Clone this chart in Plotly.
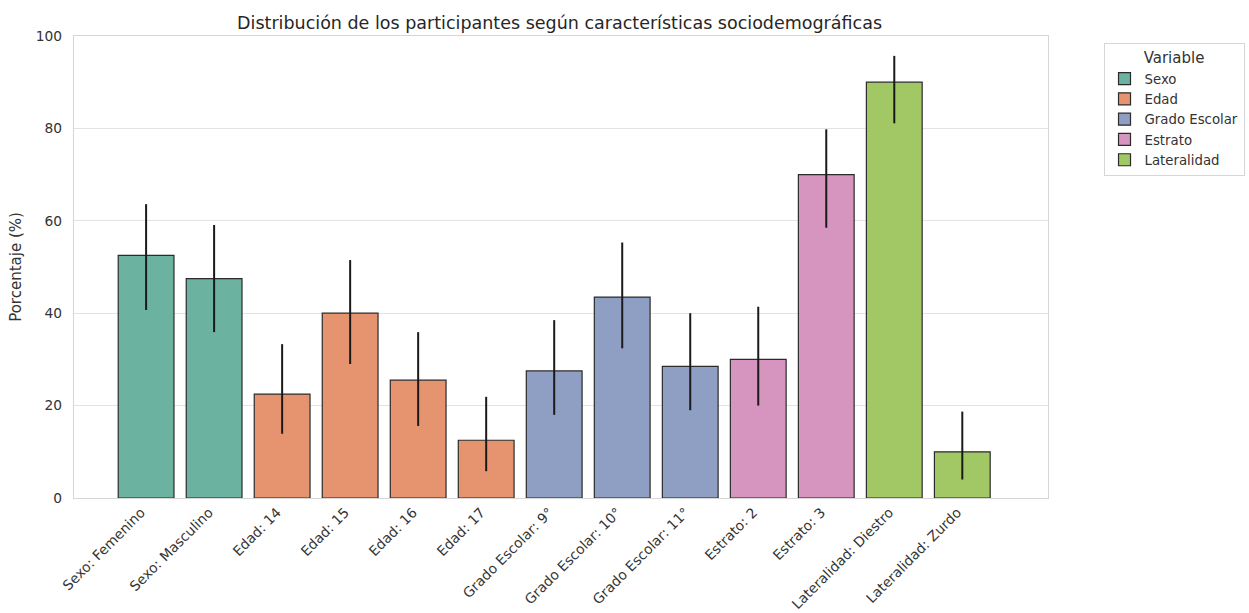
import plotly.graph_objects as go

# Categorías y porcentajes por variable sociodemográfica
groups = ["Sexo", "Edad", "Grado Escolar", "Estrato", "Lateralidad"]
categories = [
    ["Sexo: Femenino", "Sexo: Masculino"],
    ["Edad: 14", "Edad: 15", "Edad: 16", "Edad: 17"],
    ["Grado Escolar: 9°", "Grado Escolar: 10°", "Grado Escolar: 11°"],
    ["Estrato: 2", "Estrato: 3"],
    ["Lateralidad: Diestro", "Lateralidad: Zurdo"],
]
percentages = [
    [52.5, 47.5],
    [22.5, 40.0, 25.5, 12.5],
    [27.5, 43.5, 28.5],
    [30.0, 70.0],
    [90.0, 10.0],
]
# Límites del intervalo de confianza (inferior, superior)
ci_low = [
    [40.7, 35.9],
    [13.9, 29.0, 15.6, 5.8],
    [18.0, 32.4, 19.0],
    [20.0, 58.5],
    [81.1, 4.0],
]
ci_high = [
    [63.6, 59.1],
    [33.3, 51.5, 35.9, 21.9],
    [38.5, 55.3, 40.0],
    [41.4, 79.8],
    [95.7, 18.7],
]
colors = ["#6bb3a0", "#e6946f", "#8f9fc4", "#d595be", "#a1c864"]

fig = go.Figure()
for g, cats, vals, lo, hi, c in zip(groups, categories, percentages, ci_low, ci_high, colors):
    fig.add_trace(go.Bar(
        x=cats, y=vals, name=g,
        marker=dict(color=c, line=dict(color="#2b2b2b", width=1.2)),
        width=0.82,
        error_y=dict(type="data", symmetric=False,
                     array=[h - v for h, v in zip(hi, vals)],
                     arrayminus=[v - l for v, l in zip(vals, lo)],
                     color="#1a1a1a", thickness=2, width=0),
    ))

all_cats = [c for cats in categories for c in cats]
font_family = "DejaVu Sans, sans-serif"
fig.update_layout(
    width=1249, height=613,
    margin=dict(l=74, r=201, t=36, b=115, autoexpand=False),
    paper_bgcolor="white", plot_bgcolor="white",
    barmode="relative",
    font=dict(family=font_family, size=13.8, color="#333333"),
    title=dict(text="Distribución de los participantes según características sociodemográficas",
               x=0.448, xanchor="center", y=0.963, yanchor="middle",
               font=dict(size=17.5, color="#262626")),
    xaxis=dict(categoryorder="array", categoryarray=all_cats, automargin=False,
               range=[-1.06, 13.26], tickangle=-45, showgrid=False,
               showline=True, linecolor="#d6d6d6", linewidth=1.2, mirror=True,
               ticks="", ticklabelshift=-5,
               tickfont=dict(size=13.8, color="#333333")),
    yaxis=dict(range=[0, 100], tickvals=[0, 20, 40, 60, 80, 100], automargin=False,
               showgrid=True, gridcolor="#e3e3e3", gridwidth=1.2,
               showline=True, linecolor="#d6d6d6", linewidth=1.2, mirror=True,
               zeroline=False, ticks="", ticklabelstandoff=8,
               title=dict(text="Porcentaje (%)", font=dict(size=15, color="#333333"), standoff=10),
               tickfont=dict(size=13.8, color="#333333")),
    legend=dict(x=1.057, y=0.985, xanchor="left", yanchor="top",
                bordercolor="#d6d6d6", borderwidth=1, bgcolor="white",
                title=dict(text="Variable", side="top center", font=dict(size=15)),
                font=dict(size=13.3, color="#333333"), itemwidth=30,
                tracegroupgap=0),
)

fig.write_html("out.html")
